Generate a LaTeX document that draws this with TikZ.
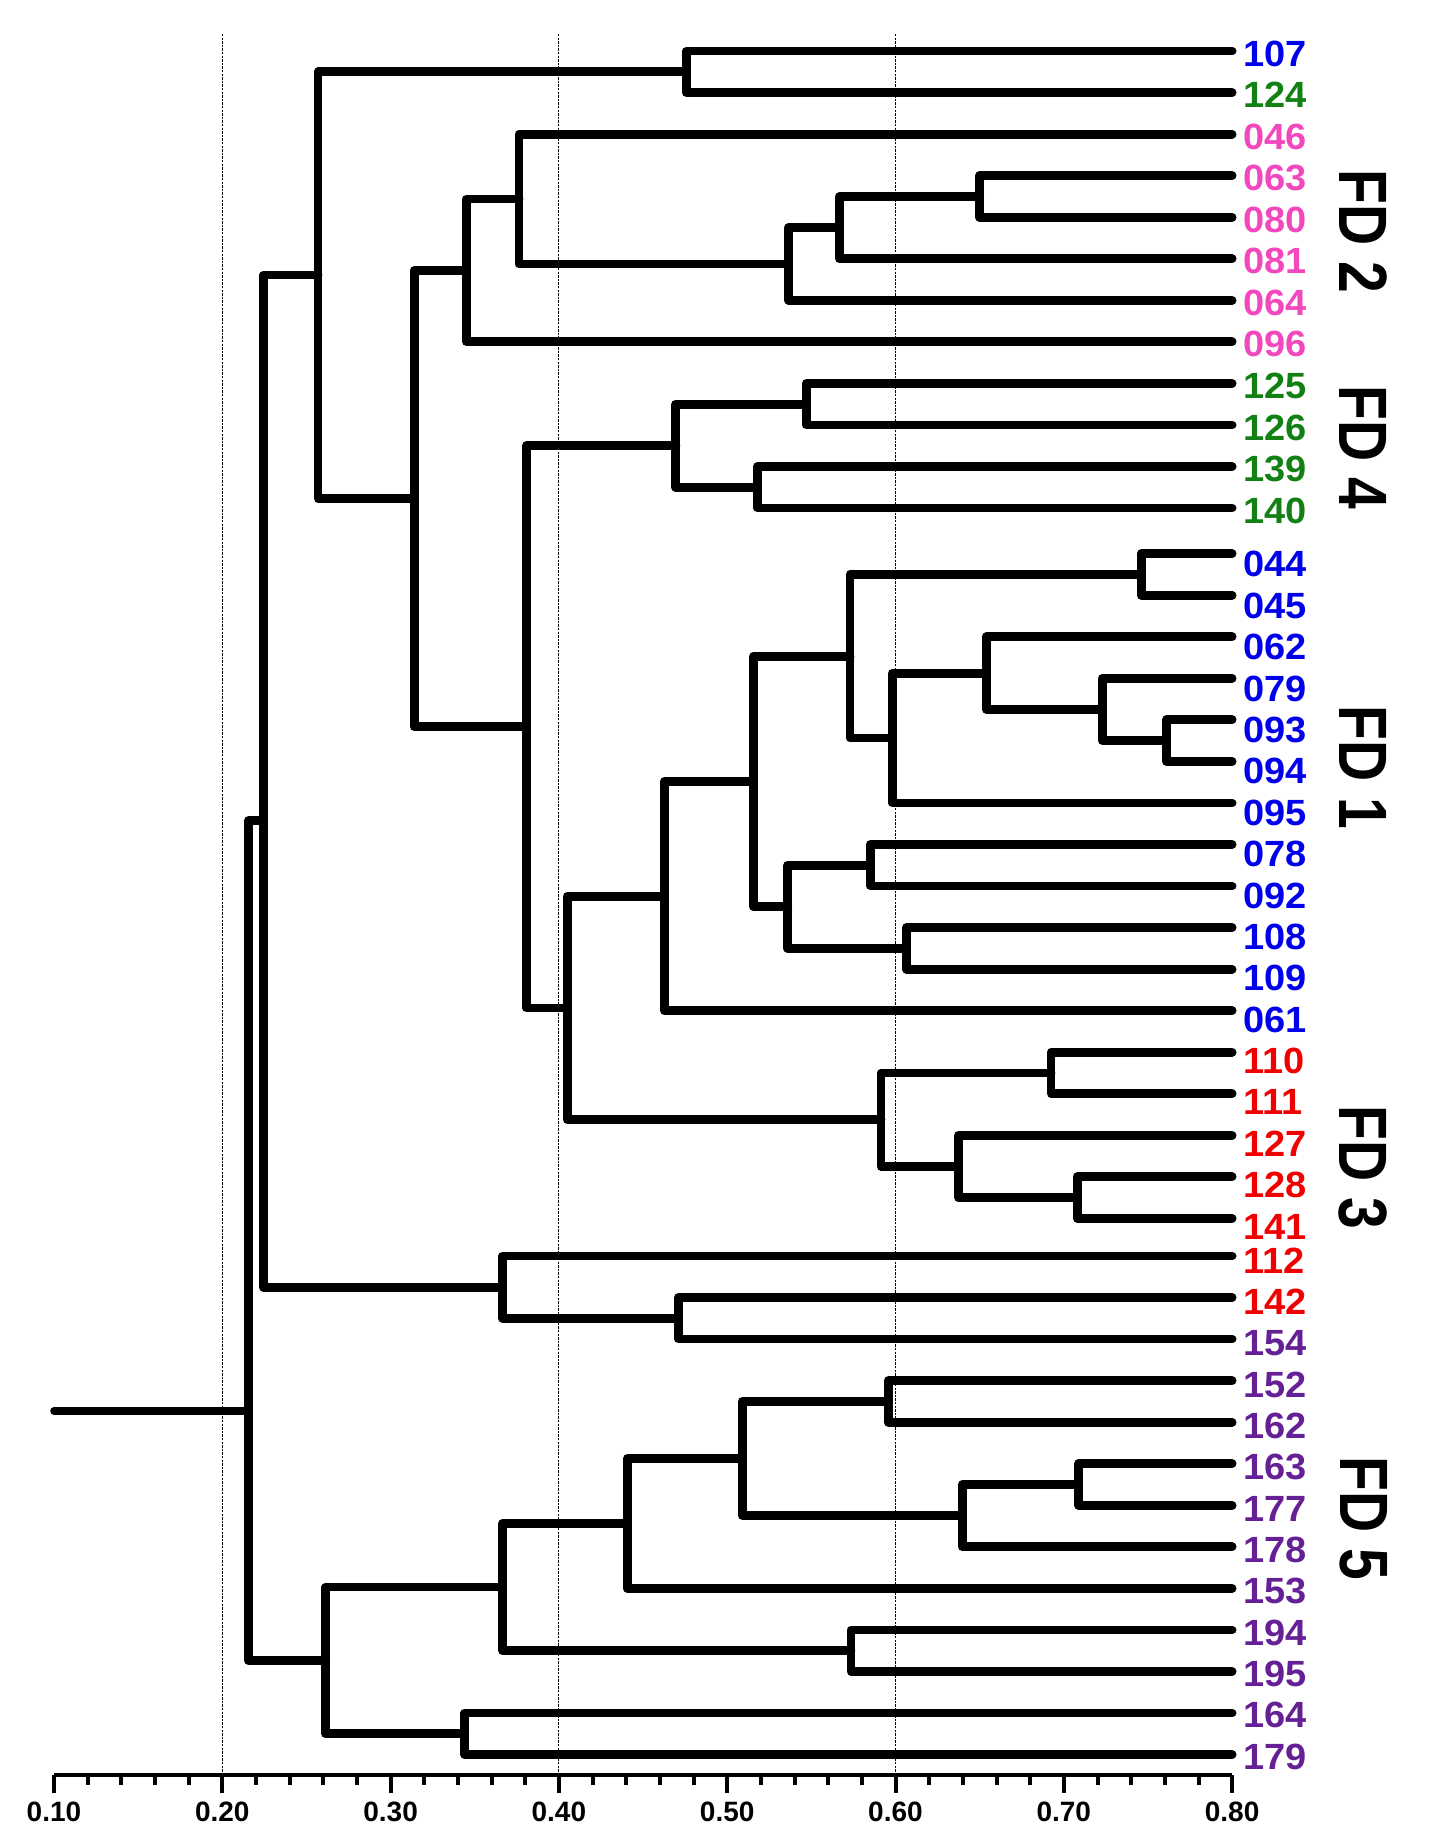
\documentclass[tikz,border=0pt]{standalone}
\usepackage{fontspec}
\setmainfont{Liberation Sans}
\definecolor{fdblue}{RGB}{0,0,235}
\definecolor{fdgreen}{RGB}{18,128,18}
\definecolor{fdpink}{RGB}{242,72,190}
\definecolor{fdred}{RGB}{240,0,0}
\definecolor{fdpurple}{RGB}{102,32,150}
\tikzset{%
branch/.style={draw,line width=4.4pt,line cap=round,line join=round},
stem/.style={draw,line width=3.8pt,line cap=round},
guide/.style={draw,line width=0.6pt,dash pattern=on 1.2pt off 0.6pt},
axis/.style={draw,line width=2pt},
leaf/.style={font=\bfseries\fontsize{19}{20}\selectfont,inner sep=0pt,anchor=west,yscale=0.96},
ticklabel/.style={font=\bfseries\fontsize{14}{15}\selectfont,inner sep=0pt},
fd/.style={font=\bfseries\fontsize{28.5}{30}\selectfont,inner sep=0pt,rotate=-90,yscale=1.2}
}
\begin{document}
\begin{tikzpicture}[x=841.5pt,y=-0.5pt]
\useasboundingbox (0.06791,0) rectangle (0.92234,1844);

\foreach \v in {0.2,0.4,0.6}
  \draw[guide] (\v,34) -- (\v,1775);

\foreach \lab/\col [count=\i from 0] in {107/fdblue,124/fdgreen,
    046/fdpink,063/fdpink,080/fdpink,081/fdpink,064/fdpink,096/fdpink,
    125/fdgreen,126/fdgreen,139/fdgreen,140/fdgreen,
    044/fdblue,045/fdblue,062/fdblue,079/fdblue,093/fdblue,094/fdblue,
    095/fdblue,078/fdblue,092/fdblue,108/fdblue,109/fdblue,061/fdblue,
    110/fdred,111/fdred,127/fdred,128/fdred,141/fdred,112/fdred,142/fdred,
    154/fdpurple,152/fdpurple,162/fdpurple,163/fdpurple,177/fdpurple,
    178/fdpurple,153/fdpurple,194/fdpurple,195/fdpurple,164/fdpurple,179/fdpurple}
{
  \pgfmathsetmacro\ly{51+41.55*\i+(\i>11)*(\i<29)*4}
  \pgfmathsetmacro\ty{\ly+ifthenelse(\i<12,2.5,ifthenelse(\i<29,10.8-0.17*(\i-12),4.5-0.2*(\i-29)))}
  \coordinate (e\lab) at (0.8,\ly);
  \node[leaf,text=\col] (l\lab) at ([xshift=5.5pt]0.8,\ty) {\lab};
}

\coordinate (k107)  at (0.4757,71.8);
\coordinate (k063)  at (0.650,196.5);
\coordinate (k081)  at (0.5667,227.6);
\coordinate (k064)  at (0.5365,264);
\coordinate (k046)  at (0.3763,199);
\coordinate (k096)  at (0.345,270.4);
\coordinate (k125)  at (0.547,404.2);
\coordinate (k139)  at (0.518,487.3);
\coordinate (kfd4)  at (0.4695,445.7);
\coordinate (k044)  at (0.746,574.4);
\coordinate (k093)  at (0.761,740.6);
\coordinate (k079)  at (0.723,709.5);
\coordinate (k062)  at (0.654,673.1);
\coordinate (k095)  at (0.598,738);
\coordinate (k045)  at (0.573,656.2);
\coordinate (k078)  at (0.585,865.3);
\coordinate (k108)  at (0.6066,948.4);
\coordinate (k092)  at (0.536,906.8);
\coordinate (kfd1)  at (0.5157,781.5);
\coordinate (k061)  at (0.4626,896.1);
\coordinate (k110)  at (0.6924,1073);
\coordinate (k128)  at (0.708,1197.6);
\coordinate (k127)  at (0.6375,1166.4);
\coordinate (kfd3)  at (0.5914,1119.7);
\coordinate (k111)  at (0.405,1007.9);
\coordinate (k140)  at (0.3807,726.8);
\coordinate (k126)  at (0.314,498.6);
\coordinate (k124)  at (0.2569,275);
\coordinate (k142)  at (0.471,1318.3);
\coordinate (k112)  at (0.3666,1287.2);
\coordinate (kA)    at (0.2245,820.8);
\coordinate (k152)  at (0.5957,1401.4);
\coordinate (k163)  at (0.7088,1484.5);
\coordinate (k178)  at (0.6396,1515.6);
\coordinate (k162)  at (0.509,1458.5);
\coordinate (k153)  at (0.4406,1523.4);
\coordinate (k194)  at (0.5735,1650.7);
\coordinate (k195)  at (0.3666,1587);
\coordinate (k164)  at (0.344,1733.8);
\coordinate (kB)    at (0.2615,1660.4);
\coordinate (kroot) at (0.2154,1411);
\coordinate (k0)    at (0.1,1411);

\foreach \p/\a/\b in {k107/e107/e124,
                      k063/e063/e080,k081/k063/e081,k064/k081/e064,
                      k046/e046/k064,k096/k046/e096,
                      k125/e125/e126,k139/e139/e140,kfd4/k125/k139,
                      k044/e044/e045,k093/e093/e094,k079/e079/k093,
                      k062/e062/k079,k095/k062/e095,k045/k044/k095,
                      k078/e078/e092,k108/e108/e109,k092/k078/k108,
                      kfd1/k045/k092,k061/kfd1/e061,
                      k110/e110/e111,k128/e128/e141,k127/e127/k128,
                      kfd3/k110/k127,k111/k061/kfd3,k140/kfd4/k111,
                      k126/k096/k140,k124/k107/k126,
                      k142/e142/e154,k112/e112/k142,kA/k124/k112,
                      k152/e152/e162,k163/e163/e177,k178/k163/e178,
                      k162/k152/k178,k153/k162/e153,k194/e194/e195,
                      k195/k153/k194,k164/e164/e179,kB/k195/k164,
                      kroot/kA/kB}
  \draw[branch] (\a) -| (\p) |- (\b);

\draw[stem] (k0) -- (kroot);

\node[fd] (fd2) at (0.878,231)  {FD 2};
\node[fd] (fd4) at (0.878,447)  {FD 4};
\node[fd] (fd1) at (0.878,767)  {FD 1};
\node[fd] (fd3) at (0.878,1167) {FD 3};
\node[fd] (fd5) at (0.878,1518) {FD 5};

\coordinate (ax0) at (0.1,1775);
\coordinate (ax1) at (0.8,1775);
\draw[axis] (ax0) -- (ax1);
\foreach \i in {0,...,35}
{
  \pgfmathsetmacro\len{ifthenelse(mod(\i,5)==0,18,10)}
  \draw[axis] ([xshift=\i*0.02*841.5pt]ax0) -- ++(0,\len);
}
\foreach \i in {1,...,8}
  \node[ticklabel] (t\i) at (\i/10,1812) {0.\i0};
\end{tikzpicture}
\end{document}
